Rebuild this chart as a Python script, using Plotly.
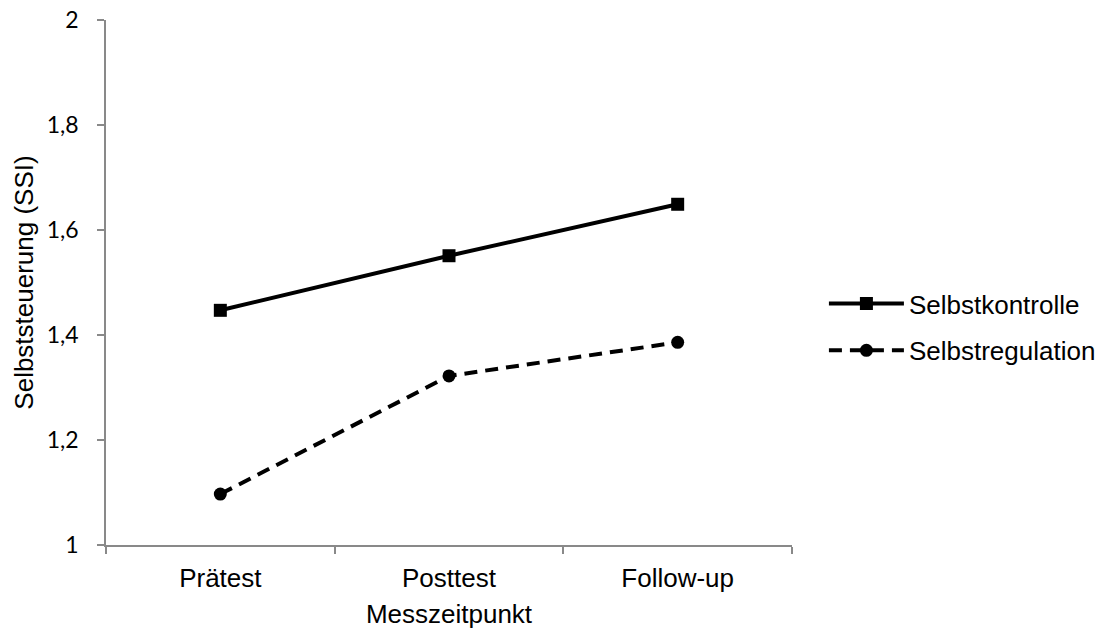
import plotly.graph_objects as go

categories = ["Prätest", "Posttest", "Follow-up"]
selbstkontrolle = [1.447, 1.551, 1.649]
selbstregulation = [1.097, 1.322, 1.386]
y_tickvals = [1.0, 1.2, 1.4, 1.6, 1.8, 2.0]
y_ticktext = ["1", "1,2", "1,4", "1,6", "1,8", "2"]

ARIAL = "Liberation Sans, Arial, sans-serif"

fig = go.Figure()
fig.add_trace(go.Scatter(
    x=categories, y=selbstkontrolle, name="Selbstkontrolle", legendgroup="a",
    mode="lines+markers",
    line=dict(color="black", width=4),
    marker=dict(symbol="square", size=13, color="black"),
))
fig.add_trace(go.Scatter(
    x=categories, y=selbstregulation, name="Selbstregulation", legendgroup="b",
    mode="lines+markers",
    line=dict(color="black", width=4, dash="13px,8px"),
    marker=dict(symbol="circle", size=13, color="black"),
))

fig.update_layout(
    width=1112, height=634,
    margin=dict(l=106, r=319, t=20, b=89),
    paper_bgcolor="white", plot_bgcolor="white",
    font=dict(family=ARIAL, size=26, color="black"),
    showlegend=True,
    legend=dict(x=1.045, y=0.415, xanchor="left", yanchor="middle",
                font=dict(size=26, family=ARIAL), itemwidth=75,
                traceorder="grouped", tracegroupgap=10,
                bgcolor="rgba(0,0,0,0)"),
    xaxis=dict(
        type="category", range=[-0.5, 2.5], automargin=False,
        showline=True, linecolor="#898989", linewidth=1.5,
        ticks="outside", tickson="boundaries", ticklen=7, tickcolor="#898989", tickwidth=1.5,
        showgrid=False, zeroline=False,
        tickfont=dict(size=26, family=ARIAL),
        ticklabelstandoff=9,
        title=dict(text="Messzeitpunkt", font=dict(size=26, family=ARIAL), standoff=13),
    ),
    yaxis=dict(
        range=[1.0, 2.0], automargin=False,
        tickvals=y_tickvals, ticktext=y_ticktext,
        showline=True, linecolor="#898989", linewidth=1.5,
        ticks="outside", ticklen=7, tickcolor="#898989", tickwidth=1.5,
        showgrid=False, zeroline=False,
        tickfont=dict(size=23, family="Lato, Carlito, sans-serif"),
        ticklabelstandoff=14, ticklabeloverflow="allow",
        title=dict(text="Selbststeuerung (SSI)", font=dict(size=26, family=ARIAL), standoff=6),
    ),
)

fig.write_html("out.html", config={"displayModeBar": False},
               post_script="document.body.style.margin='0px';")
